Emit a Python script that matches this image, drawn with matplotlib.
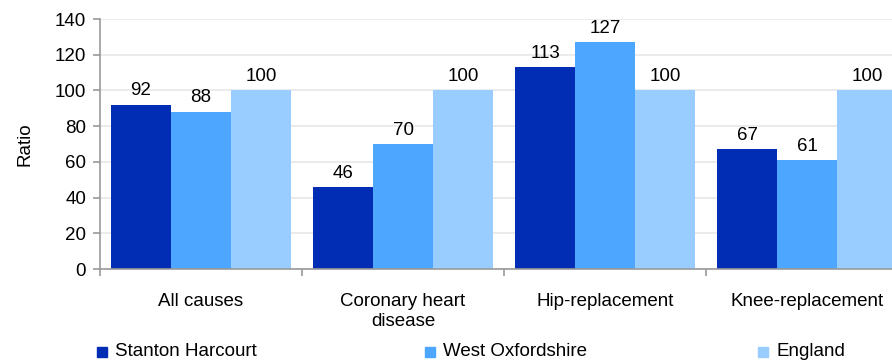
import matplotlib
matplotlib.use("Agg")
import matplotlib.pyplot as plt
import numpy as np
from matplotlib.patches import Rectangle

plt.rcParams['font.family'] = ['Liberation Sans', 'DejaVu Sans']

categories = ["All causes", "Coronary heart\ndisease", "Hip-replacement", "Knee-replacement"]
series_names = ["Stanton Harcourt", "West Oxfordshire", "England"]
stanton = [92, 46, 113, 67]
west_oxon = [88, 70, 127, 61]
england = [100, 100, 100, 100]
colors = ["#002db3", "#4da6ff", "#99ccff"]

FS = 13.5
W, H = 892, 360
fig = plt.figure(figsize=(W / 100, H / 100), dpi=100)
# axes runs slightly past the right edge of the figure
ax = fig.add_axes([100 / W, 1 - 269 / H, 808 / W, 250 / H])

x = np.arange(len(categories))
bw = 0.297
for i, (vals, c) in enumerate(zip([stanton, west_oxon, england], colors)):
    pos = x + (i - 1) * bw
    ax.bar(pos, vals, width=bw, color=c, label=series_names[i], zorder=2)
    for p, v in zip(pos, vals):
        ax.text(p, v + 3, str(v), ha="center", va="bottom", fontsize=FS, zorder=3)

ax.set_xlim(-0.5, len(categories) - 0.5)
ax.set_ylim(0, 140)
ax.set_yticks(range(0, 141, 20))
ax.yaxis.grid(True, color="#e8e8e8", linewidth=1.2, zorder=0)
ax.set_axisbelow(True)

ax.set_xticks(np.arange(-0.5, len(categories), 1.0))
ax.set_xticklabels([])
ax.set_xticks(x, minor=True)
ax.set_xticklabels(categories, minor=True, fontsize=FS, linespacing=1.25)
ax.tick_params(axis="x", which="minor", length=0, pad=17)
ax.tick_params(axis="x", which="major", length=5, color="#999999", width=1.2)
ax.tick_params(axis="y", length=5, color="#999999", width=1.2, labelsize=FS, pad=5)

for s in ["top", "right"]:
    ax.spines[s].set_visible(False)
for s in ["left", "bottom"]:
    ax.spines[s].set_color("#999999")
    ax.spines[s].set_linewidth(1.2)

ax.set_ylabel("Ratio", fontsize=FS, labelpad=15)

# legend along the bottom edge
leg_x = [97, 425, 758]
for lx, name, c in zip(leg_x, series_names, colors):
    fig.patches.append(Rectangle((lx / W, 1 - 357 / H), 10 / W, 10 / H,
                                 transform=fig.transFigure, color=c, figure=fig))
    fig.text((lx + 18) / W, 1 - 352 / H, name, fontsize=FS, va="center", ha="left")

fig.savefig("out.png", dpi=100)
